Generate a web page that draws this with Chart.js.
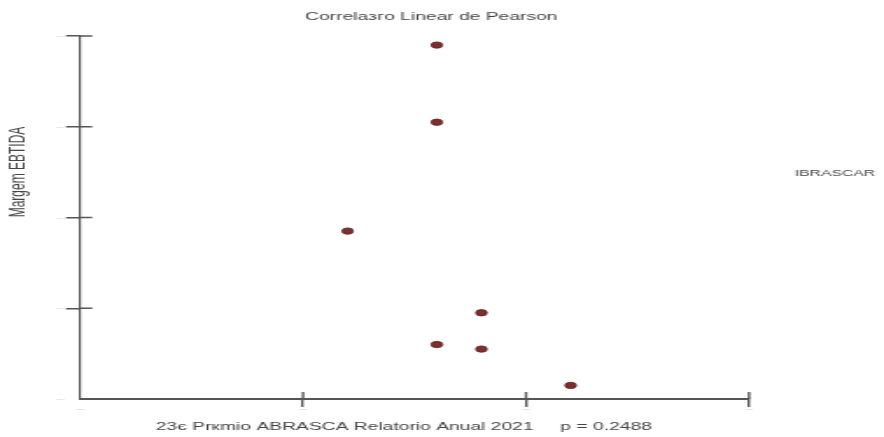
<!DOCTYPE html>
<html><head><meta charset="utf-8">
<script src="https://cdn.jsdelivr.net/npm/chart.js@4.4.1/dist/chart.umd.min.js"></script>
<style>
html,body{margin:0;padding:0;background:#fff;overflow:hidden}
#wrap{width:505px;height:437px;transform:scaleX(1.7505);transform-origin:0 0;}
</style></head><body>
<div id="wrap"><canvas id="c"></canvas></div>
<script>
const chartTitle = 'Correlaзгo Linear de Pearson';
const xAxisTitle = '23є Prкmio ABRASCA Relatorio Anual 2021     p = 0.2488';
const yAxisTitle = 'Margem EBTIDA';
const seriesName = 'IBRASCAR';
const xValues = [1.6, 1.6, 1.2, 1.8, 1.6, 1.8, 2.2];
const yValues = [3.9, 3.05, 1.85, 0.95, 0.6, 0.55, 0.15];
const xTicks = [0, 1, 2, 3];
const yTicks = [0, 1, 2, 3, 4];
const xTickLabels = ['–', '–', '–', '–'];
const yTickLabels = ['–', '–', '–', '–', '–'];

const FONT = '"Liberation Sans", Arial, sans-serif';
Chart.defaults.font.family = FONT;
Chart.defaults.color = '#444';

const points = xValues.map((x, i) => ({x: x, y: yValues[i]}));
const AXIS = '#555';

const yTitlePlugin = {
  id: 'yTitle',
  afterDraw(chart) {
    const ctx = chart.ctx, s = chart.scales.y;
    ctx.save();
    ctx.translate(s.left + 10.3, 172);
    ctx.rotate(-Math.PI / 2);
    ctx.textAlign = 'center';
    ctx.textBaseline = 'middle';
    ctx.font = '12px ' + FONT;
    ctx.fillStyle = '#444';
    ctx.fillText(yAxisTitle, 0, 0);
    ctx.restore();
  }
};

const innerTicks = {
  id: 'innerTicks',
  beforeDatasetsDraw(chart) {
    const ctx = chart.ctx, xs = chart.scales.x, ys = chart.scales.y;
    const a = chart.chartArea;
    ctx.save();
    ctx.strokeStyle = AXIS;
    ctx.lineWidth = 1.4;
    xTicks.forEach(v => {
      if (v === 0) return;
      const px = xs.getPixelForValue(v);
      ctx.beginPath(); ctx.moveTo(px, a.bottom); ctx.lineTo(px, a.bottom - 7); ctx.stroke();
    });
    ctx.lineWidth = 1.5;
    yTicks.forEach(v => {
      if (v === 0) return;
      const py = ys.getPixelForValue(v);
      ctx.beginPath(); ctx.moveTo(a.left, py); ctx.lineTo(a.left + 7, py); ctx.stroke();
    });
    ctx.restore();
  }
};

new Chart(document.getElementById('c'), {
  type: 'scatter',
  data: {
    datasets: [{
      label: seriesName,
      data: points,
      backgroundColor: '#7d2f2f',
      borderColor: '#5a2222',
      borderWidth: 0.8,
      pointRadius: 3.2,
      pointHoverRadius: 3.2
    }]
  },
  options: {
    responsive: true,
    maintainAspectRatio: false,
    animation: false,
    devicePixelRatio: 1,
    layout: {padding: 0},
    plugins: {
      tooltip: {enabled: false},
      title: {
        display: true,
        text: chartTitle + '\u00a0\u00a0\u00a0\u00a0',
        color: '#444',
        font: {size: 11, weight: 'normal', family: FONT},
        padding: {top: 10, bottom: 12.8}
      },
      legend: {
        position: 'right',
        align: 'start',
        maxWidth: 77.1,
        title: {display: true, text: ' ', font: {size: 10}, padding: {top: 135.4, bottom: 0}},
        labels: {
          boxWidth: 0,
          padding: 21.6,
          color: '#444',
          font: {size: 9, family: FONT},
          generateLabels(chart) {
            const items = Chart.defaults.plugins.legend.labels.generateLabels(chart);
            items.forEach(it => { it.fillStyle = 'rgba(0,0,0,0)'; it.strokeStyle = 'rgba(0,0,0,0)'; it.lineWidth = 0; });
            return items;
          }
        }
      }
    },
    scales: {
      x: {
        type: 'linear',
        min: xTicks[0],
        max: xTicks[xTicks.length - 1],
        afterBuildTicks(s) { s.ticks = xTicks.map(v => ({value: v})); },
        afterFit(s) { s.height = 38; },
        border: {display: true, color: AXIS, width: 2},
        grid: {
          display: true,
          drawOnChartArea: false,
          drawTicks: true,
          tickLength: 8,
          lineWidth: 1.4,
          color: c => (c.tick && c.tick.value === 0) ? 'rgba(0,0,0,0)' : AXIS
        },
        ticks: {
          padding: 0,
          color: '#cfcfcf',
          font: {size: 8, lineHeight: 0.5},
          maxRotation: 0,
          callback: (v, i) => xTickLabels[i]
        },
        title: {
          display: true,
          text: xAxisTitle + '\u00a0\u00a0\u00a0\u00a0',
          color: '#444',
          font: {size: 11, family: FONT},
          padding: {top: 0, bottom: 3.4}
        }
      },
      y: {
        type: 'linear',
        min: yTicks[0],
        max: yTicks[yTicks.length - 1],
        afterBuildTicks(s) { s.ticks = yTicks.map(v => ({value: v})); },
        afterFit(s) { s.width = 45.7; },
        border: {display: true, color: AXIS, width: 1.2},
        grid: {
          display: true,
          drawOnChartArea: false,
          drawTicks: true,
          tickLength: 8,
          lineWidth: 1.5,
          color: c => (c.tick && c.tick.value === 0) ? 'rgba(0,0,0,0)' : AXIS
        },
        ticks: {
          padding: 1,
          color: '#cfcfcf',
          font: {size: 8},
          callback: (v, i) => yTickLabels[i]
        },
        title: {display: false}
      }
    }
  },
  plugins: [innerTicks, yTitlePlugin]
});
</script>
</body></html>
